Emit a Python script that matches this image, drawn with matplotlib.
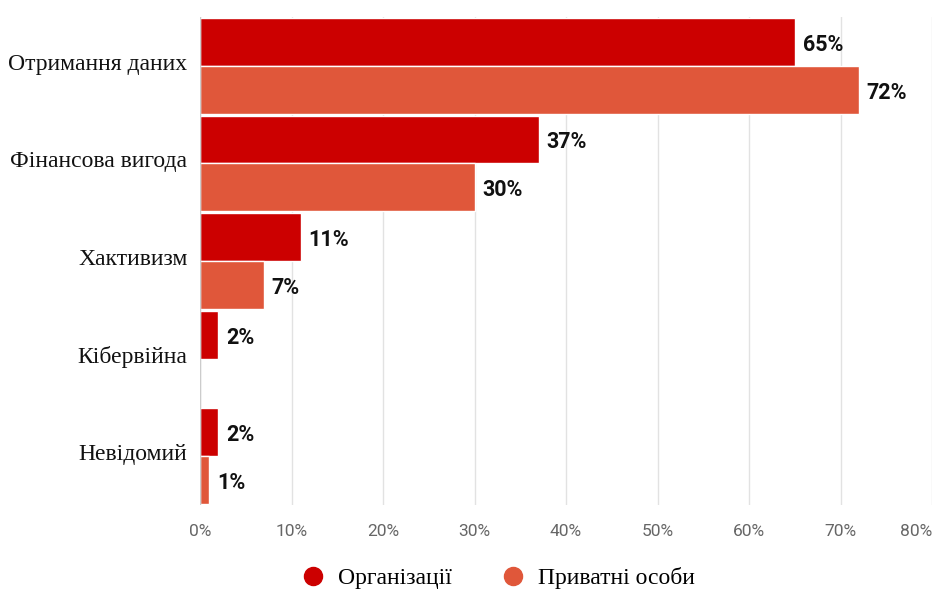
import numpy as np
import matplotlib.pyplot as plt
from matplotlib.lines import Line2D

categories = ["Отримання даних", "Фінансова вигода", "Хактивизм", "Кібервійна", "Невідомий"]
organizations = [65, 37, 11, 2, 2]
individuals = [72, 30, 7, 0, 1]
series_names = ["Організації", "Приватні особи"]
colors = ["#CC0000", "#E0573A"]
xticks = [0, 10, 20, 30, 40, 50, 60, 70, 80]

fig = plt.figure(figsize=(9.34, 5.9), dpi=100)
W, H = 934, 590
ax = fig.add_axes([200 / W, 1 - 505 / H, 732 / W, 488 / H])

y = np.arange(len(categories))
h = 0.49
ax.barh(y - h / 2, organizations, height=h, color=colors[0], edgecolor="white", linewidth=1)
ax.barh(y + h / 2, individuals, height=h, color=colors[1], edgecolor="white", linewidth=1)

for i in range(len(categories)):
    for vals, off in ((organizations, -h / 2), (individuals, h / 2)):
        v = vals[i]
        if v > 0:
            ax.text(v + 0.85, y[i] + off + 0.03, f"{v}%", va="center", ha="left",
                    fontsize=15.5, fontweight="bold", family="Roboto", color="#111111")

ax.set_xlim(0, 80)
ax.set_ylim(len(categories) - 0.5, -0.5)
ax.set_xticks(xticks)
ax.set_xticklabels([f"{t}%" for t in xticks], family="Roboto", fontsize=12.5, color="#666666")
ax.get_xticklabels()[-1].set_horizontalalignment("right")
ax.set_yticks(y - 0.04)
ax.set_yticklabels(categories, family="Liberation Serif", fontsize=17, color="#111111")
ax.tick_params(axis="both", length=0)
ax.tick_params(axis="x", pad=14)
ax.tick_params(axis="y", pad=9)
ax.grid(axis="x", color="#e2e2e2", linewidth=1)
ax.set_axisbelow(True)
for s in ax.spines.values():
    s.set_visible(False)
ax.axvline(0, color="#cccccc", linewidth=1)

handles = [Line2D([], [], marker="o", linestyle="", markersize=13, color=c) for c in colors]
fig.legend(handles, series_names, loc="center", bbox_to_anchor=(492 / W, 1 - 578 / H),
           ncol=2, frameon=False, prop={"family": "Liberation Serif", "size": 17},
           handletextpad=0.05, columnspacing=1.6)

fig.savefig("out.png", dpi=100)
